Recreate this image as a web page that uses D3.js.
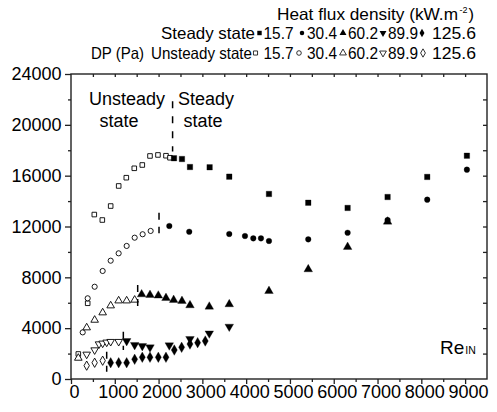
<!DOCTYPE html>
<html><head><meta charset="utf-8">
<script src="https://cdn.jsdelivr.net/npm/d3@7"></script>
<style>body{margin:0;background:#fff}svg{display:block;font-family:"Liberation Sans",Arial,sans-serif}</style>
</head><body><svg id="c" width="497" height="412"></svg>
<script>
const fluxLabels = ["15.7", "30.4", "60.2", "89.9", "125.6"];
const xTicks = [0, 1000, 2000, 3000, 4000, 5000, 6000, 7000, 8000, 9000];
const yTicks = [0, 4000, 8000, 12000, 16000, 20000, 24000];

// Unsteady (open) and steady (filled) series: Re_IN and DP (Pa)
const u157Re = [167, 381, 532, 715, 906, 1089, 1263, 1445, 1628, 1804, 1986, 2169, 2260];
const u157DP = [1970, 5960, 12940, 12510, 13610, 15190, 15840, 16580, 16840, 17550, 17630, 17570, 17410];
const s157Re = [2352, 2534, 2717, 3166, 3614, 4521, 5418, 6317, 7230, 8135, 9041];
const s157DP = [17370, 17310, 16680, 16660, 15920, 14560, 13870, 13460, 14320, 15900, 17570];

const u304Re = [267, 381, 540, 723, 906, 1088, 1271, 1454, 1636, 1819];
const u304DP = [3670, 6350, 7260, 8500, 9310, 9890, 10470, 11120, 11390, 11650];
const s304Re = [2245, 2700, 3614, 3973, 4163, 4338, 4521, 5418, 6317, 7230, 8135, 9041];
const s304DP = [12040, 11590, 11410, 11250, 11070, 11070, 10860, 10990, 11510, 12510, 14110, 16470];

const u602Re = [167, 358, 540, 723, 906, 1088, 1271, 1454];
const u602DP = [1650, 4040, 4640, 5220, 5770, 6160, 6160, 6220];
const s602Re = [1613, 1804, 1994, 2169, 2344, 2534, 2717, 3158, 3614, 4521, 5418, 6317, 7230];
const s602DP = [6660, 6610, 6560, 6370, 6220, 6140, 5800, 5690, 5880, 6920, 8630, 10390, 12380];

const u899Re = [358, 540, 640, 723, 815, 906, 1089];
const u899DP = [1940, 2280, 2750, 2810, 2890, 2940, 2940];
const s899Re = [1271, 1454, 1628, 1804, 2245, 2717, 3158, 3614];
const s899DP = [2990, 2680, 2600, 2490, 2650, 3150, 3590, 4120];

const u1256Re = [358, 540, 723];
const u1256DP = [1050, 1280, 1440];
const s1256Re = [906, 1089, 1271, 1454, 1628, 1804, 1994, 2169, 2359, 2527, 2717, 2892, 3066];
const s1256DP = [1280, 1280, 1280, 1550, 1710, 1710, 1710, 1710, 2280, 2490, 2750, 2860, 2990];

// transition markers (Re, DP low, DP high)
const divRe = [2320, 2010, 1523, 1195, 815];
const divLo = [17900, 11465, 5744, 2282, 574];
const divHi = [21850, 13086, 7397, 3722, 2148];

const svg = d3.select("#c");
const x = d3.scaleLinear().domain([0, 9500]).range([71, 487]);
const y = d3.scaleLinear().domain([0, 24000]).range([379, 74]);
const ink = "#222";

// frame
svg.append("rect").attr("x", x(0)).attr("y", y(24000)).attr("width", x(9500) - x(0)).attr("height", y(0) - y(24000))
  .attr("fill", "none").attr("stroke", ink).attr("stroke-width", 1.4);

function styleAxis(g) {
  g.select(".domain").remove();
  g.selectAll("line").attr("stroke", ink).attr("stroke-width", 1.3);
  g.selectAll("text").attr("font-size", 18).attr("fill", "#000").attr("font-family", '"Liberation Sans",Arial,sans-serif');
}
const minorX = d3.range(500, 9500, 1000);
const minorY = d3.range(2000, 24000, 4000);

svg.append("g").attr("transform", `translate(0,${y(0)})`)
  .call(d3.axisBottom(x).tickValues(xTicks).tickSize(5).tickPadding(1).tickFormat(d3.format("d"))).call(styleAxis)
  .selectAll("text").attr("dx", 3);
svg.append("g").attr("transform", `translate(0,${y(0)})`)
  .call(d3.axisBottom(x).tickValues(minorX).tickSize(3).tickFormat("")).call(styleAxis);
svg.append("g").attr("transform", `translate(${x(0)},0)`)
  .call(d3.axisLeft(y).tickValues(yTicks).tickSize(6).tickPadding(3.5).tickFormat(d3.format("d"))).call(styleAxis);
svg.append("g").attr("transform", `translate(${x(0)},0)`)
  .call(d3.axisLeft(y).tickValues(minorY).tickSize(3).tickFormat("")).call(styleAxis);
svg.append("g").attr("transform", `translate(0,${y(24000)})`)
  .call(d3.axisBottom(x).tickValues(d3.range(500, 9500, 500)).tickSize(3).tickFormat("")).call(styleAxis);
svg.append("g").attr("transform", `translate(${x(9500)},0)`)
  .call(d3.axisLeft(y).tickValues(d3.range(2000, 24000, 2000)).tickSize(4).tickFormat("")).call(styleAxis);

// marker shapes
const shapes = [d3.symbolSquare, d3.symbolCircle, d3.symbolTriangle, d3.symbolTriangle, d3.symbolDiamond];
const sizesFilled = [30, 25, 32, 32, 32];
const sizesOpen = [21, 21, 25, 25, 25];
const rot = [0, 0, 0, 180, 0];

function drawSeries(re, dp, k, filled) {
  const sym = d3.symbol().type(shapes[k]).size(filled ? sizesFilled[k] : sizesOpen[k]);
  svg.append("g").selectAll("path").data(re.map((r, i) => [r, dp[i]])).join("path")
    .attr("d", sym)
    .attr("transform", d => `translate(${x(d[0])},${y(d[1])}) rotate(${rot[k]})`)
    .attr("fill", filled ? "#000" : "#fff")
    .attr("stroke", "#000").attr("stroke-width", filled ? 0.3 : 0.9);
}
const unsteady = [[u157Re, u157DP], [u304Re, u304DP], [u602Re, u602DP], [u899Re, u899DP], [u1256Re, u1256DP]];
const steady = [[s157Re, s157DP], [s304Re, s304DP], [s602Re, s602DP], [s899Re, s899DP], [s1256Re, s1256DP]];
unsteady.forEach((s, k) => drawSeries(s[0], s[1], k, false));
steady.forEach((s, k) => drawSeries(s[0], s[1], k, true));

// transition dashed markers
svg.append("g").selectAll("line").data(divRe.map((r, i) => [r, divLo[i], divHi[i]])).join("line")
  .attr("x1", d => x(d[0])).attr("x2", d => x(d[0]))
  .attr("y1", d => y(d[2])).attr("y2", d => y(d[1]))
  .attr("stroke", "#000").attr("stroke-width", 1.5)
  .attr("stroke-dasharray", (d, i) => i === 0 ? "7,8" : "7,7");

// annotations
const ann = svg.append("g").attr("font-size", 18).attr("fill", "#000").attr("text-anchor", "middle");
ann.append("text").attr("x", 127).attr("y", 105).text("Unsteady");
ann.append("text").attr("x", 119).attr("y", 127).text("state");
ann.append("text").attr("x", 206).attr("y", 105).text("Steady");
ann.append("text").attr("x", 203).attr("y", 127).text("state");

const re = svg.append("text").attr("x", 440).attr("y", 354).attr("font-size", 19).attr("fill", "#000");
re.append("tspan").text("Re");
re.append("tspan").attr("font-size", 10.5).attr("dx", 1).text("IN");

// legend
const lg = svg.append("g").attr("font-size", 16.5).attr("fill", "#000");
function fitText(xp, yp, str, len) {
  return lg.append("text").attr("x", xp).attr("y", yp).attr("textLength", len)
    .attr("lengthAdjust", "spacingAndGlyphs").text(str);
}
fitText(277, 20, "Heat flux density (kW.m", 181);
lg.append("text").attr("x", 459.5).attr("y", 13).attr("font-size", 9).text("-2");
lg.append("text").attr("x", 468.5).attr("y", 20).text(")");
fitText(161, 38.5, "Steady state", 94);
fitText(151, 58.5, "Unsteady state", 101);
fitText(91, 58.5, "DP (Pa)", 53);

const mk1 = [259.5, 302, 343, 383, 422];
const mk2 = [255.5, 299, 343, 383, 423];
const tx = [263.5, 307, 348, 388, 432];
const tl = [30, 30, 30, 30, 44];
fluxLabels.forEach((lab, k) => {
  const symF = d3.symbol().type(shapes[k]).size(sizesFilled[k] * 0.65);
  const symO = d3.symbol().type(shapes[k]).size(sizesOpen[k] * 0.8);
  lg.append("path").attr("d", symF).attr("transform", `translate(${mk1[k]},33) rotate(${rot[k]})`).attr("fill", "#000");
  fitText(tx[k], 38.5, lab, tl[k]);
  lg.append("path").attr("d", symO).attr("transform", `translate(${mk2[k]},53) rotate(${rot[k]})`)
    .attr("fill", "#fff").attr("stroke", "#000").attr("stroke-width", 0.8);
  fitText(tx[k], 58.5, lab, tl[k]);
});
</script></body></html>
